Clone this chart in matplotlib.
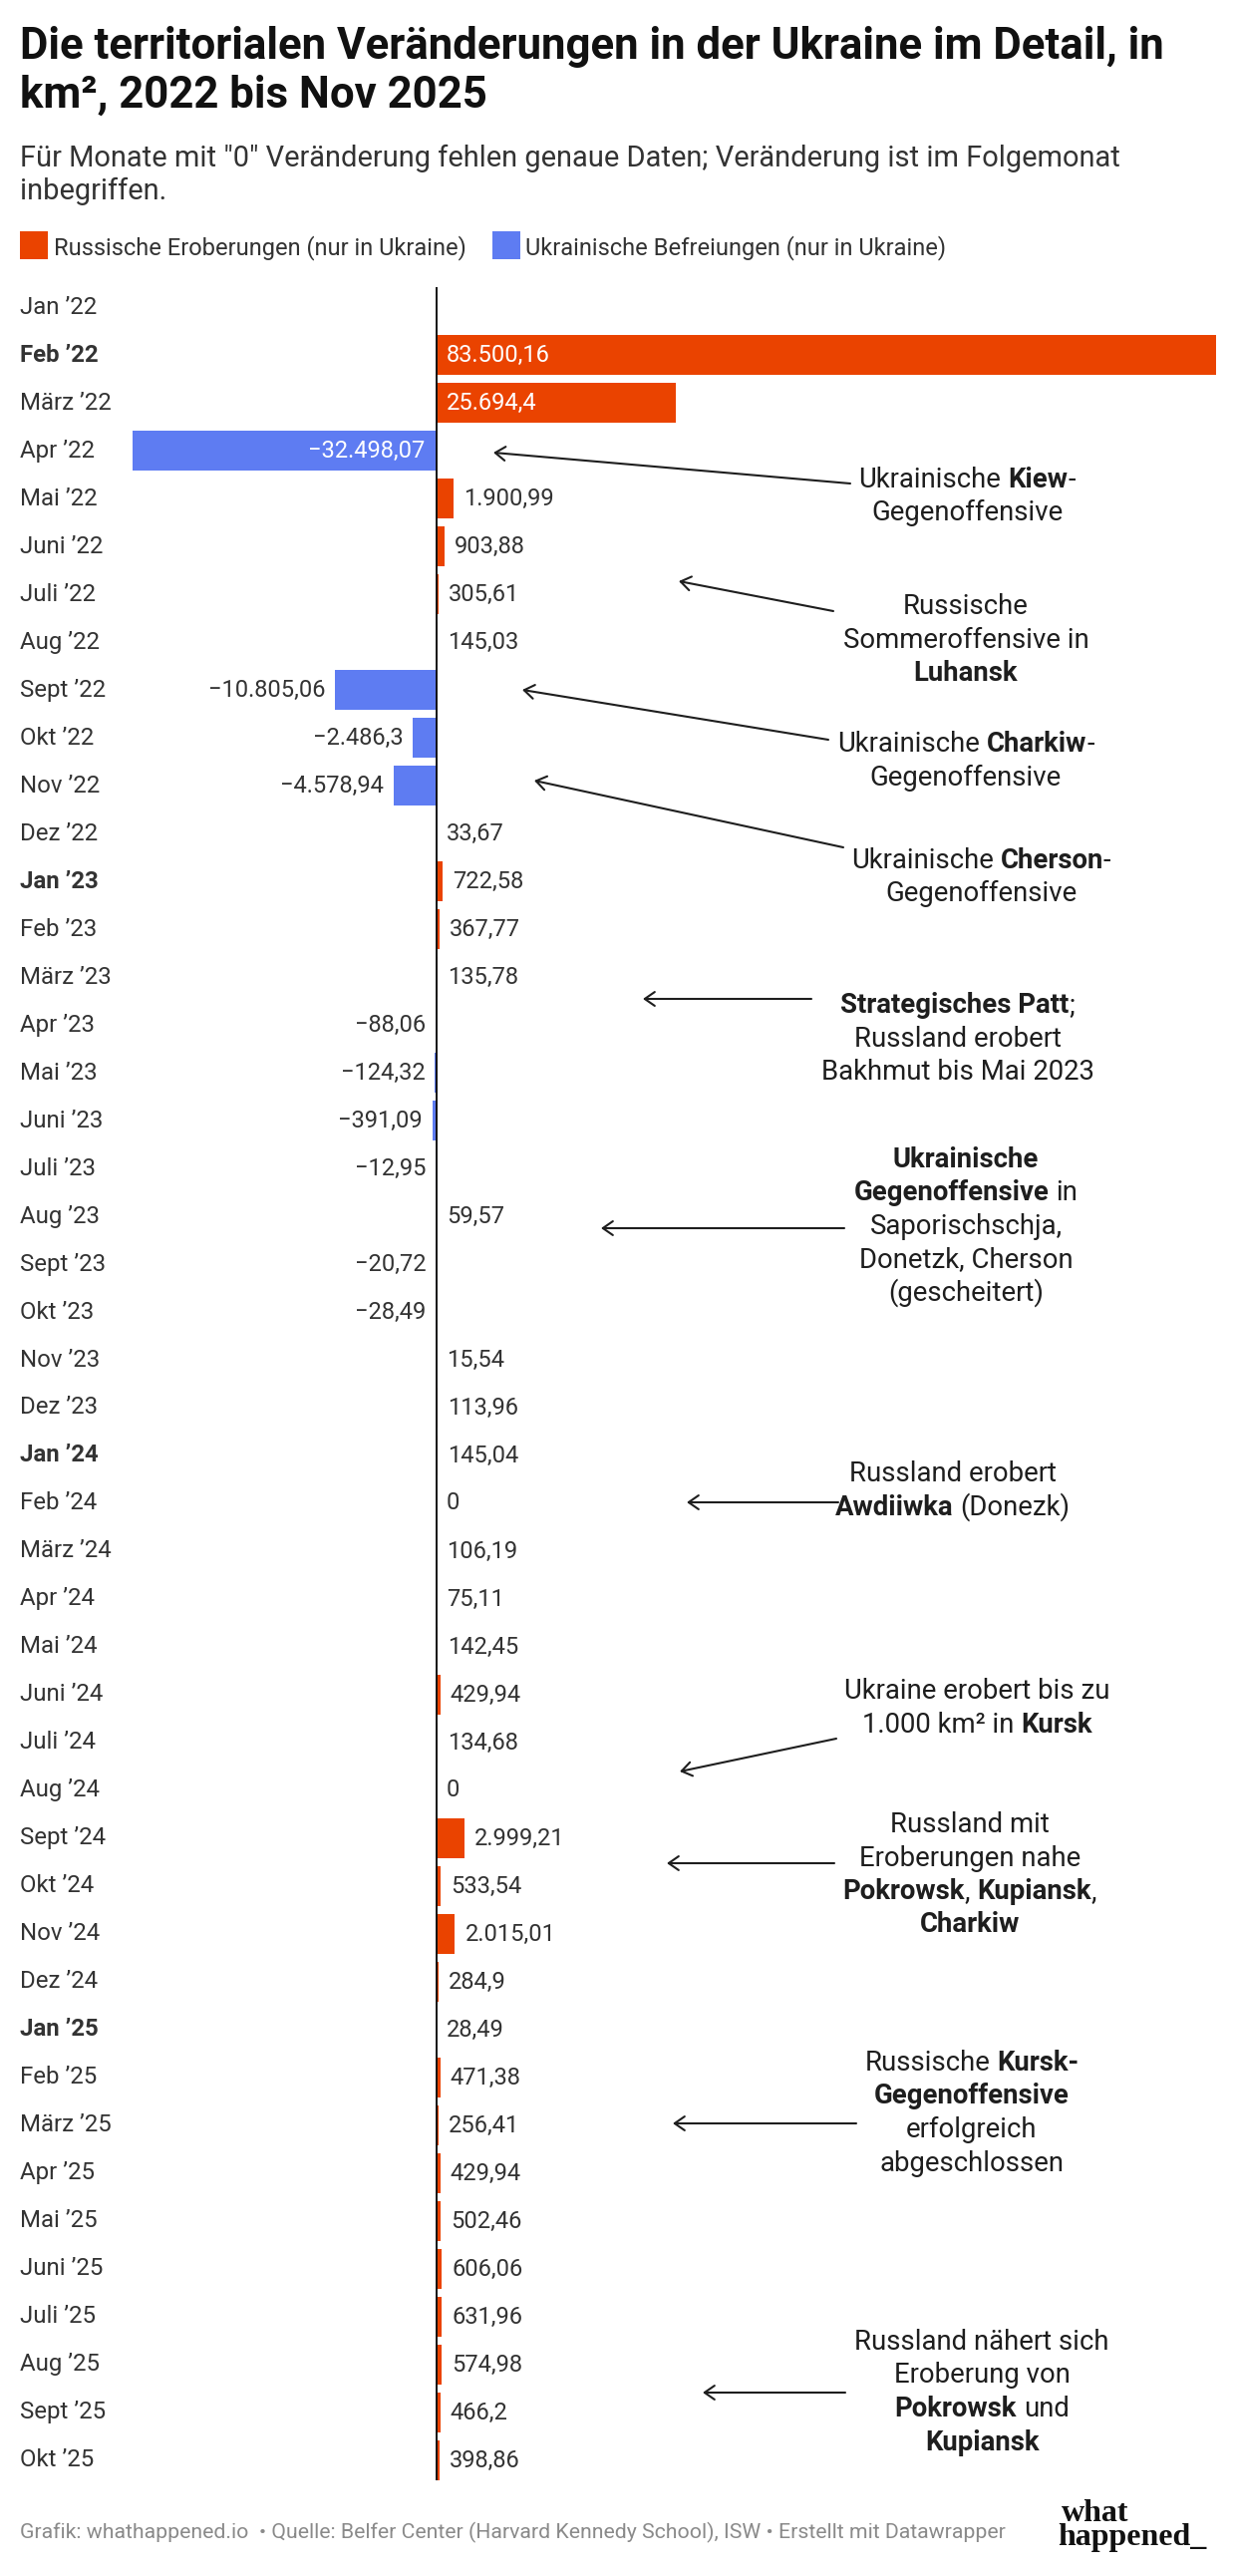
import numpy as np
import matplotlib.pyplot as plt
import matplotlib.patches as mpatches
import matplotlib.transforms as mtransforms

plt.rcParams['font.family'] = ['Roboto', 'DejaVu Sans']

# --- Data ---
months = ["Jan ’22", "Feb ’22", "März ’22", "Apr ’22", "Mai ’22", "Juni ’22", "Juli ’22", "Aug ’22",
          "Sept ’22", "Okt ’22", "Nov ’22", "Dez ’22",
          "Jan ’23", "Feb ’23", "März ’23", "Apr ’23", "Mai ’23", "Juni ’23", "Juli ’23", "Aug ’23",
          "Sept ’23", "Okt ’23", "Nov ’23", "Dez ’23",
          "Jan ’24", "Feb ’24", "März ’24", "Apr ’24", "Mai ’24", "Juni ’24", "Juli ’24", "Aug ’24",
          "Sept ’24", "Okt ’24", "Nov ’24", "Dez ’24",
          "Jan ’25", "Feb ’25", "März ’25", "Apr ’25", "Mai ’25", "Juni ’25", "Juli ’25", "Aug ’25",
          "Sept ’25", "Okt ’25"]
values = [np.nan, 83500.16, 25694.4, -32498.07, 1900.99, 903.88, 305.61, 145.03,
          -10805.06, -2486.3, -4578.94, 33.67,
          722.58, 367.77, 135.78, -88.06, -124.32, -391.09, -12.95, 59.57,
          -20.72, -28.49, 15.54, 113.96,
          145.04, 0, 106.19, 75.11, 142.45, 429.94, 134.68, 0,
          2999.21, 533.54, 2015.01, 284.9,
          28.49, 471.38, 256.41, 429.94, 502.46, 606.06, 631.96, 574.98,
          466.2, 398.86]
bold_months = ["Feb ’22", "Jan ’23", "Jan ’24", "Jan ’25"]

legend_labels = ["Russische Eroberungen (nur in Ukraine)", "Ukrainische Befreiungen (nur in Ukraine)"]

notes = [
    ["Ukrainische **Kiew**-", "Gegenoffensive"],
    ["Russische", "Sommeroffensive in", "**Luhansk**"],
    ["Ukrainische **Charkiw**-", "Gegenoffensive"],
    ["Ukrainische **Cherson**-", "Gegenoffensive"],
    ["**Strategisches Patt**;", "Russland erobert", "Bakhmut bis Mai 2023"],
    ["**Ukrainische**", "**Gegenoffensive** in", "Saporischschja,", "Donetzk, Cherson", "(gescheitert)"],
    ["Russland erobert", "**Awdiiwka** (Donezk)"],
    ["Ukraine erobert bis zu", "1.000 km² in **Kursk**"],
    ["Russland mit", "Eroberungen nahe", "**Pokrowsk**, **Kupiansk**,", "**Charkiw**"],
    ["Russische **Kursk-**", "**Gegenoffensive**", "erfolgreich", "abgeschlossen"],
    ["Russland nähert sich", "Eroberung von", "**Pokrowsk** und", "**Kupiansk**"],
]
# layout of notes in pixels: text centre x, first line centre y, arrow tail, arrow head
note_pos = [
    (970, 480, (853, 485), (495, 454)),
    (969, 607, (836, 613), (681, 583)),
    (969, 745, (831, 742), (524, 692)),
    (984, 862, (846, 850), (536, 783)),
    (961, 1007, (814, 1002), (645, 1002)),
    (969, 1162, (847, 1232), (603, 1232)),
    (956, 1477, (841, 1507), (689, 1507)),
    (980, 1695, (839, 1744), (682, 1777)),
    (973, 1829, (837, 1869), (669, 1869)),
    (975, 2068, (859, 2130), (675, 2130)),
    (985, 2348, (848, 2400), (705, 2400)),
]

RED = '#EA4300'
BLUE = '#5E7CF2'
TXT = '#333333'
NOTE_SIZE = 19.8

W, H = 1240, 2584
def fx(x):
    return x / W
def fy(y):
    return 1 - y / H

def de_num(v):
    s = f"{abs(v):,.2f}".rstrip('0').rstrip('.')
    s = s.replace(',', 'X').replace('.', ',').replace('X', '.')
    return ('−' if v < 0 else '') + s

fig = plt.figure(figsize=(W / 100, H / 100), dpi=100)
fig.patch.set_facecolor('white')

# --- Axes: zero at x=437.5px, largest bar reaches 1220px ---
left_px, zero_px, right_px = 20, 437.5, 1220
top_px, bot_px = 288, 2488
ax = fig.add_axes([fx(left_px), fy(bot_px), (right_px - left_px) / W, (bot_px - top_px) / H])
vmax = np.nanmax(values)
ax.set_xlim(vmax * (left_px - zero_px) / (right_px - zero_px), vmax)
n = len(months)
ax.set_ylim(n - 1 + 0.4167, -0.4167)
ax.axis('off')

rows = np.arange(n)
vals = np.nan_to_num(np.array(values, dtype=float))
colors = [RED if v >= 0 else BLUE for v in vals]
ax.barh(rows, vals, height=0.833, color=colors, zorder=2)
ax.axvline(0, color='#111111', lw=1.4, zorder=3)

trans = mtransforms.blended_transform_factory(ax.transAxes, ax.transData)
for i, m in enumerate(months):
    ax.text(0, i, m, transform=trans, ha='left', va='center', fontsize=17.3, color=TXT,
            fontweight='bold' if m in bold_months else 'normal')

for i, v in enumerate(values):
    if np.isnan(v):
        continue
    label = de_num(v)
    if abs(v) > 20000:
        ax.annotate(label, (0, i), xytext=(7.5 if v > 0 else -8.3, 0), textcoords='offset points',
                    ha='left' if v > 0 else 'right', va='center', fontsize=17, color='white', zorder=4)
    else:
        ax.annotate(label, (v, i), xytext=(7.2 if v >= 0 else -7.2, 0), textcoords='offset points',
                    ha='left' if v >= 0 else 'right', va='center', fontsize=17, color=TXT, zorder=4)

# --- Title, subtitle, legend ---
fig.text(fx(20), fy(59), "Die territorialen Veränderungen in der Ukraine im Detail, in",
         fontsize=31.5, fontweight='bold', color='#111111', va='baseline')
fig.text(fx(20), fy(108), "km², 2022 bis Nov 2025",
         fontsize=31.5, fontweight='bold', color='#111111', va='baseline')
fig.text(fx(20), fy(167), "Für Monate mit \"0\" Veränderung fehlen genaue Daten; Veränderung ist im Folgemonat",
         fontsize=20.9, color=TXT, va='baseline')
fig.text(fx(20), fy(200), "inbegriffen.", fontsize=20.9, color=TXT, va='baseline')

for (sx, tx), lab, col in zip([(20, 54), (494, 527)], legend_labels, [RED, BLUE]):
    fig.add_artist(mpatches.Rectangle((fx(sx), fy(260)), 28 / W, 28 / H, transform=fig.transFigure,
                                      facecolor=col, edgecolor='none'))
    fig.text(fx(tx), fy(255), lab, fontsize=17, color=TXT, va='baseline')

# --- Annotations with mixed bold text ---
renderer = fig.canvas.get_renderer()

def text_width(s, bold):
    t = fig.text(0, 0, s, fontsize=NOTE_SIZE, fontweight='bold' if bold else 'normal')
    w = t.get_window_extent(renderer=renderer).width
    t.remove()
    return w

space_w = text_width("a a", False) - text_width("aa", False)

def rich(cx, cy, lines, lh=33.5):
    for k, line in enumerate(lines):
        base = cy + 9 + k * lh
        pieces = []
        for j, p in enumerate(line.split('**')):
            if p == '':
                continue
            lead = len(p) - len(p.lstrip(' '))
            trail = len(p) - len(p.rstrip(' '))
            core = p.strip(' ')
            pieces.append((core, j % 2 == 1, lead, trail, text_width(core, j % 2 == 1)))
        total = sum(pc[2] * space_w + pc[4] + pc[3] * space_w for pc in pieces)
        x = cx - total / 2
        for core, bold, lead, trail, w in pieces:
            x += lead * space_w
            fig.text(fx(x), fy(base), core, fontsize=NOTE_SIZE, va='baseline', ha='left',
                     fontweight='bold' if bold else 'normal', color='#1e1e1e')
            x += w + trail * space_w

for lines, (cx, cy, tail, head) in zip(notes, note_pos):
    rich(cx, cy, lines)
    ax.annotate('', xy=(fx(head[0]), fy(head[1])), xycoords='figure fraction',
                xytext=(fx(tail[0]), fy(tail[1])), textcoords='figure fraction',
                arrowprops=dict(arrowstyle='->,head_length=0.72,head_width=0.5', mutation_scale=10,
                                lw=1.5, color='#1e1e1e', shrinkA=0, shrinkB=0))

# --- Footer ---
fig.text(fx(20), fy(2540), "Grafik: whathappened.io  • Quelle: Belfer Center (Harvard Kennedy School), ISW • Erstellt mit Datawrapper",
         fontsize=15.3, color='#8a8a8a', va='center')
fig.text(fx(1065), fy(2529), "what", fontsize=23, fontweight='bold', family='Liberation Serif',
         color='#111111', va='baseline')
fig.text(fx(1061), fy(2553), "happened_", fontsize=23, fontweight='bold', family='Liberation Serif',
         color='#111111', va='baseline')

fig.savefig('out.png', dpi=100, facecolor='white')
